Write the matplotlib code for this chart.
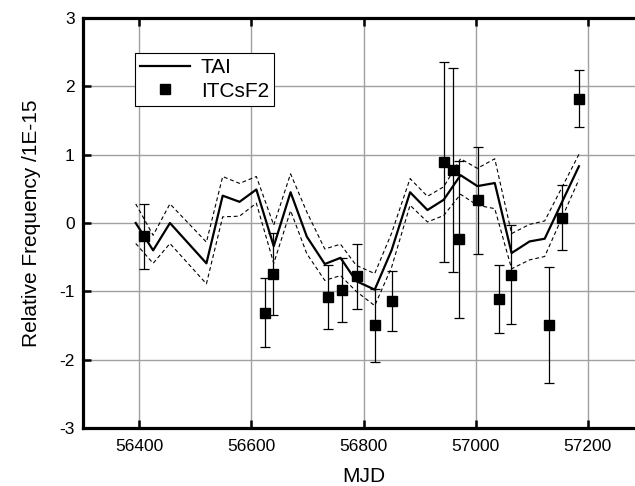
import matplotlib
matplotlib.use("Agg")
import matplotlib.pyplot as plt
from matplotlib.lines import Line2D

plt.rcParams['font.family'] = ['Liberation Sans', 'DejaVu Sans']
plt.rcParams['axes.unicode_minus'] = False

# TAI series (solid) with its upper / lower bounds (dashed)
mjd_tai = [56394, 56425, 56455, 56520, 56549, 56579, 56609, 56640, 56670, 56699,
           56731, 56759, 56787, 56820, 56850, 56883, 56914, 56943, 56973, 57003,
           57034, 57064, 57096, 57123, 57184]
tai = [0.0, -0.40, 0.0, -0.59, 0.40, 0.31, 0.49, -0.34, 0.45, -0.20,
       -0.60, -0.51, -0.85, -0.975, -0.40, 0.45, 0.19, 0.34, 0.70, 0.54,
       0.585, -0.44, -0.27, -0.23, 0.83]
tai_upper = [0.28, -0.18, 0.28, -0.28, 0.68, 0.58, 0.68, -0.03, 0.72, 0.16,
             -0.38, -0.31, -0.62, -0.74, -0.15, 0.65, 0.39, 0.53, 0.94, 0.80,
             0.94, -0.155, -0.02, 0.03, 1.005]
tai_lower = [-0.30, -0.59, -0.30, -0.89, 0.09, 0.10, 0.29, -0.59, 0.18, -0.45,
             -0.84, -0.77, -1.0, -1.21, -0.65, 0.26, 0.015, 0.11, 0.42, 0.26,
             0.21, -0.67, -0.54, -0.49, 0.635]

# ITCsF2 points with error bars
mjd_cs = [56409, 56624, 56639, 56737, 56762, 56789, 56821, 56851, 56943, 56959,
          56971, 57004, 57041, 57063, 57130, 57154, 57184]
cs = [-0.195, -1.31, -0.74, -1.08, -0.975, -0.78, -1.50, -1.14, 0.89, 0.78,
      -0.24, 0.33, -1.11, -0.755, -1.49, 0.08, 1.82]
cs_err = [0.475, 0.51, 0.60, 0.47, 0.47, 0.475, 0.53, 0.44, 1.46, 1.49,
          1.15, 0.78, 0.50, 0.73, 0.85, 0.48, 0.42]

x_ticks = [56400, 56600, 56800, 57000, 57200]
y_ticks = [-3, -2, -1, 0, 1, 2, 3]

W, H = 635, 486
fig = plt.figure(figsize=(W / 100, H / 100), dpi=100)
ax = fig.add_axes([83 / W, 1 - 428 / H, (644 - 83) / W, (428 - 18) / H])

ax.plot(mjd_tai, tai_upper, color='black', lw=0.8, ls=(0, (3.5, 2.5)), zorder=3)
ax.plot(mjd_tai, tai_lower, color='black', lw=0.8, ls=(0, (3.5, 2.5)), zorder=3)
ax.plot(mjd_tai, tai, color='black', lw=1.6, zorder=4)
ax.errorbar(mjd_cs, cs, yerr=cs_err, fmt='s', color='black', ms=7,
            elinewidth=0.9, capsize=3.5, capthick=0.9, zorder=5)

ax.set_xlim(56300, 57300)
ax.set_ylim(-3, 3)
ax.set_xticks(x_ticks)
ax.set_yticks(y_ticks)
ax.grid(True, color='#a0a0a0', lw=1.0, zorder=0)
ax.set_axisbelow(True)

for s in ax.spines.values():
    s.set_linewidth(2.3)
ax.tick_params(direction='in', length=6, width=1.8, top=True, right=True,
               labelsize=12.5, pad=6)
ax.tick_params(axis='x', pad=8)

ax.set_xlabel('MJD', fontsize=15, labelpad=9)
ax.set_ylabel('Relative Frequency /1E-15', fontsize=15, labelpad=13)

handles = [Line2D([], [], color='black', lw=1.6),
           Line2D([], [], color='black', marker='s', ls='none', ms=7)]
leg = ax.legend(handles, ['TAI', 'ITCsF2'], loc='upper left',
                bbox_to_anchor=(0.0927, 0.914), borderaxespad=0,
                fontsize=15, fancybox=False, framealpha=1, edgecolor='black',
                handlelength=2.4, borderpad=0.25, labelspacing=0.2,
                handletextpad=0.5)
leg.get_frame().set_linewidth(0.8)

fig.savefig('out.png', dpi=100)
